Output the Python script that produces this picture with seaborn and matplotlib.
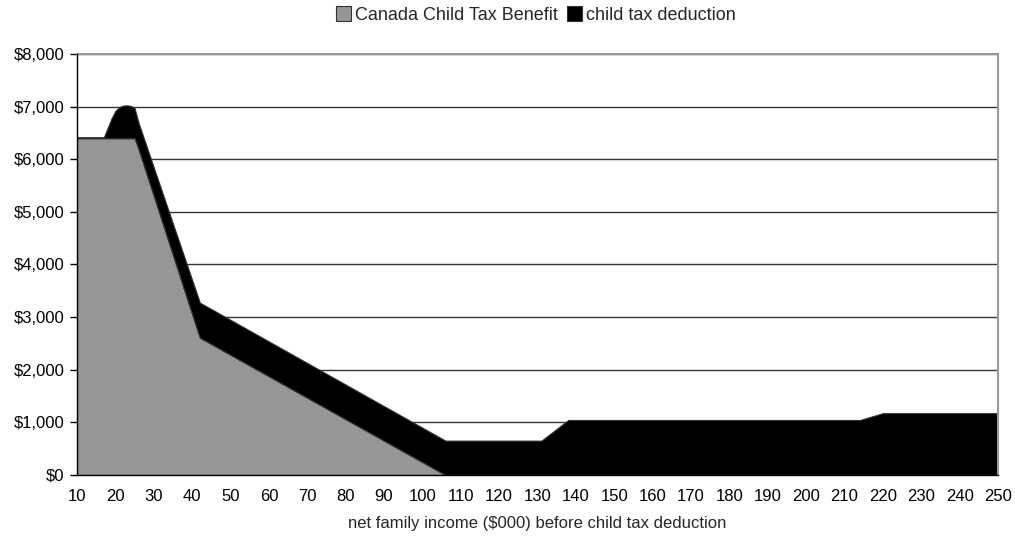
import numpy as np
import matplotlib
matplotlib.use("Agg")
import matplotlib.pyplot as plt
import seaborn as sns
from matplotlib.ticker import FuncFormatter

# net family income ($000) at the breakpoints of the two series
income = [10, 17, 18, 19, 20, 21, 22, 23, 24, 25, 26, 42, 106, 131, 138, 214, 220, 250]
# Canada Child Tax Benefit ($)
cctb = [6400, 6400, 6400, 6400, 6400, 6400, 6400, 6400, 6400, 6400, 6200, 2610, 0, 0, 0, 0, 0, 0]
# value of the child tax deduction ($), stacked on top
deduction = [20, 20, 200, 380, 520, 590, 620, 625, 615, 570, 500, 666, 653, 653, 1045, 1045, 1175, 1175]

series_names = ["Canada Child Tax Benefit", "child tax deduction"]
colors = ["#969696", "#000000"]

sns.set_theme(style="white")
plt.rcParams["font.family"] = ["Liberation Sans", "DejaVu Sans"]

fig = plt.figure(figsize=(10.15, 5.37), dpi=100)
ax = fig.add_axes([0.0759, 0.1155, 0.9074, 0.7839])

ax.stackplot(income, cctb, deduction, colors=colors, labels=series_names,
             linewidth=0, zorder=2)

ax.set_xlim(10, 250)
ax.set_ylim(0, 8000)
ax.set_xticks(np.arange(10, 251, 10))
ax.set_yticks(np.arange(0, 8001, 1000))
ax.yaxis.set_major_formatter(FuncFormatter(lambda v, p: f"${v:,.0f}"))
ax.tick_params(axis="both", labelsize=12, colors="black")
ax.tick_params(axis="y", length=5, width=1, direction="out", left=True, pad=4)
ax.tick_params(axis="x", length=0, pad=10)

ax.grid(axis="y", color="#333333", linewidth=1, zorder=1)
ax.grid(axis="x", visible=False)
ax.set_axisbelow(True)

for side in ["top", "right"]:
    ax.spines[side].set_color("#999999")
    ax.spines[side].set_linewidth(1.5)
for side in ["left", "bottom"]:
    ax.spines[side].set_color("black")
    ax.spines[side].set_linewidth(1)
    ax.spines[side].set_zorder(3)

ax.set_xlabel("net family income ($000) before child tax deduction", fontsize=12,
              labelpad=9)

handles, labels = ax.get_legend_handles_labels()
for h in handles:
    h.set_edgecolor("#333333")
    h.set_linewidth(0.8)
fig.legend(handles, labels, loc="center", bbox_to_anchor=(0.528, 0.972), ncol=2,
           frameon=False, fontsize=13, handlelength=0.85, handleheight=0.85,
           handletextpad=0.2, columnspacing=0.5)

fig.savefig("out.png", dpi=100)
